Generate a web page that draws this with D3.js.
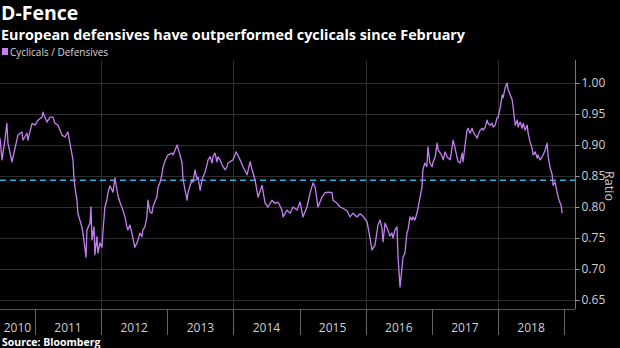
<!DOCTYPE html>
<html>
<head>
<meta charset="utf-8">
<script src="https://cdn.jsdelivr.net/npm/d3@7"></script>
<style>
  html, body { margin: 0; padding: 0; background: #000; }
  svg { display: block; }
  text { font-family: "Open Sans", "Noto Sans", sans-serif; }
</style>
</head>
<body>
<svg id="chart" width="620" height="348"></svg>
<script>
// Cyclicals / Defensives ratio, European equities
const dates = [
  "2010-06-22","2010-07-03","2010-07-19","2010-07-30","2010-08-05","2010-08-27","2010-09-13","2010-09-29",
  "2010-10-21","2010-10-27","2010-11-18","2010-11-23","2010-12-16","2011-01-01","2011-01-18","2011-02-09",
  "2011-02-14","2011-03-08","2011-03-25","2011-04-10","2011-04-21","2011-05-08","2011-05-30","2011-06-16",
  "2011-07-02","2011-07-13","2011-07-30","2011-08-04","2011-08-10","2011-08-21","2011-08-26","2011-09-06",
  "2011-09-17","2011-09-23","2011-10-10","2011-10-15","2011-11-01","2011-11-06","2011-11-12","2011-11-23",
  "2011-11-28","2011-12-09","2011-12-15","2011-12-26","2012-01-06","2012-01-11","2012-01-22","2012-02-02",
  "2012-02-08","2012-02-19","2012-03-07","2012-03-18","2012-03-29","2012-04-03","2012-04-14","2012-05-01",
  "2012-05-12","2012-05-23","2012-05-28","2012-06-08","2012-06-19","2012-07-06","2012-07-17","2012-07-23",
  "2012-08-03","2012-08-14","2012-08-19","2012-08-30","2012-09-10","2012-09-16","2012-09-27","2012-10-08",
  "2012-10-13","2012-10-24","2012-11-04","2012-11-10","2012-11-21","2012-12-02","2012-12-07","2012-12-18",
  "2012-12-30","2013-01-05","2013-01-27","2013-02-02","2013-02-13","2013-02-24","2013-03-01","2013-03-12",
  "2013-03-23","2013-03-29","2013-04-09","2013-04-20","2013-04-25","2013-05-07","2013-05-18","2013-05-23",
  "2013-06-03","2013-06-14","2013-06-20","2013-07-01","2013-07-12","2013-07-17","2013-07-28","2013-08-08",
  "2013-08-14","2013-08-25","2013-09-05","2013-09-10","2013-09-21","2013-10-02","2013-10-08","2013-10-19",
  "2013-10-30","2013-11-05","2013-11-16","2013-11-27","2013-12-02","2013-12-29","2014-01-16","2014-02-07",
  "2014-02-23","2014-03-17","2014-04-03","2014-04-14","2014-04-30","2014-05-17","2014-06-08","2014-06-25",
  "2014-07-11","2014-08-02","2014-08-19","2014-09-04","2014-09-26","2014-10-02","2014-10-24","2014-11-10",
  "2014-11-26","2014-12-18","2015-01-04","2015-01-20","2015-02-11","2015-02-28","2015-03-17","2015-03-28",
  "2015-04-13","2015-05-05","2015-05-22","2015-06-07","2015-06-29","2015-07-05","2015-07-27","2015-08-13",
  "2015-08-29","2015-09-20","2015-10-07","2015-10-23","2015-11-14","2015-12-01","2015-12-18","2016-01-09",
  "2016-01-25","2016-02-05","2016-02-22","2016-03-09","2016-03-20","2016-03-31","2016-04-06","2016-04-17",
  "2016-05-03","2016-05-14","2016-05-25","2016-05-31","2016-06-11","2016-06-22","2016-06-28","2016-07-09",
  "2016-07-20","2016-07-25","2016-08-05","2016-08-16","2016-08-22","2016-09-02","2016-09-13","2016-09-18",
  "2016-09-29","2016-10-10","2016-10-16","2016-10-27","2016-11-07","2016-11-12","2016-11-23","2016-12-04",
  "2016-12-10","2016-12-21","2017-01-02","2017-01-08","2017-01-19","2017-01-30","2017-02-04","2017-02-16",
  "2017-02-27","2017-03-04","2017-03-15","2017-03-26","2017-04-01","2017-04-12","2017-04-28","2017-05-09",
  "2017-05-20","2017-05-26","2017-06-06","2017-06-17","2017-06-22","2017-07-03","2017-07-14","2017-07-20",
  "2017-07-31","2017-08-11","2017-08-17","2017-08-28","2017-09-08","2017-09-13","2017-09-24","2017-10-05",
  "2017-10-11","2017-10-22","2017-11-02","2017-11-07","2017-11-18","2017-11-29","2017-12-05","2017-12-16",
  "2017-12-27","2018-01-02","2018-01-13","2018-01-24","2018-01-29","2018-02-09","2018-02-20","2018-02-26",
  "2018-03-09","2018-03-20","2018-03-26","2018-04-06","2018-04-17","2018-04-22","2018-05-03","2018-05-14",
  "2018-05-20","2018-05-31","2018-06-11","2018-06-16","2018-06-27","2018-07-08","2018-07-14","2018-07-25",
  "2018-08-05","2018-08-10","2018-08-21","2018-09-01","2018-09-07","2018-09-18","2018-09-29","2018-10-05",
  "2018-10-16","2018-10-27","2018-11-01","2018-11-12","2018-11-23","2018-11-29","2018-12-04","2018-12-15",
  "2018-12-21"
];

const ratio = [
  0.911,0.876,0.908,0.935,0.903,0.873,0.895,0.916,
  0.921,0.908,0.919,0.908,0.935,0.932,0.940,0.945,
  0.953,0.937,0.945,0.945,0.935,0.932,0.916,0.913,
  0.921,0.903,0.876,0.848,0.831,0.811,0.790,0.779,
  0.768,0.758,0.719,0.763,0.774,0.800,0.747,0.768,
  0.723,0.752,0.726,0.742,0.735,0.758,0.800,0.811,
  0.823,0.834,0.824,0.847,0.827,0.819,0.808,0.795,
  0.784,0.768,0.763,0.771,0.758,0.735,0.742,0.747,
  0.758,0.752,0.763,0.768,0.784,0.811,0.792,0.790,
  0.800,0.808,0.816,0.831,0.839,0.852,0.863,0.873,
  0.881,0.884,0.887,0.884,0.892,0.900,0.895,0.884,
  0.871,0.844,0.827,0.811,0.823,0.835,0.844,0.840,
  0.860,0.844,0.848,0.827,0.844,0.848,0.856,0.868,
  0.876,0.881,0.871,0.881,0.887,0.873,0.881,0.876,
  0.868,0.865,0.860,0.865,0.871,0.876,0.889,0.876,
  0.865,0.852,0.873,0.860,0.844,0.816,0.835,0.806,
  0.800,0.811,0.806,0.808,0.795,0.784,0.795,0.790,
  0.800,0.795,0.808,0.784,0.800,0.823,0.839,0.832,
  0.800,0.816,0.823,0.824,0.823,0.811,0.806,0.800,
  0.798,0.794,0.784,0.790,0.784,0.789,0.785,0.776,
  0.750,0.731,0.739,0.771,0.779,0.766,0.744,0.774,
  0.763,0.753,0.758,0.750,0.763,0.768,0.718,0.671,
  0.703,0.719,0.726,0.758,0.763,0.784,0.779,0.784,
  0.779,0.790,0.798,0.815,0.832,0.860,0.871,0.865,
  0.897,0.871,0.865,0.873,0.881,0.903,0.892,0.887,
  0.881,0.876,0.889,0.881,0.879,0.876,0.908,0.895,
  0.879,0.873,0.871,0.887,0.873,0.900,0.924,0.927,
  0.919,0.927,0.921,0.916,0.911,0.916,0.924,0.927,
  0.924,0.929,0.940,0.935,0.932,0.935,0.929,0.932,
  0.944,0.945,0.960,0.981,0.976,0.992,1.000,0.989,
  0.981,0.973,0.960,0.932,0.940,0.929,0.937,0.927,
  0.935,0.924,0.932,0.919,0.905,0.895,0.884,0.889,
  0.879,0.884,0.876,0.881,0.884,0.892,0.903,0.881,
  0.863,0.852,0.835,0.840,0.824,0.816,0.811,0.803,
  0.790
];

const averageRatio = 0.843;
const yTickValues = [0.65, 0.70, 0.75, 0.80, 0.85, 0.90, 0.95, 1.00];
const yearLabels = ["2010","2011","2012","2013","2014","2015","2016","2017","2018"];
const gridYears = ["2012","2014","2016","2018"];
const seriesName = "Cyclicals / Defensives";

const parse = d3.utcParse("%Y-%m-%d");
const series = dates.map((d, i) => ({ date: parse(d), value: ratio[i] }));

const svg = d3.select("#chart");
const plot = { left: 0, right: 575, top: 60, bottom: 309 };

const x = d3.scaleUtc()
  .domain([parse("2010-06-22"), parse("2019-03-02")])
  .range([plot.left, plot.right]);
const y = d3.scaleLinear()
  .domain([0.6355, 1.0371])
  .range([plot.bottom, plot.top]);

// Titles
svg.append("text").attr("x", 1).attr("y", 20)
  .attr("fill", "#fff").attr("font-weight", 700).attr("font-size", 19.5)
  .text("D-Fence");
svg.append("text").attr("x", 1).attr("y", 39.5)
  .attr("fill", "#fff").attr("font-weight", 700).attr("font-size", 14.5)
  .attr("textLength", 464).attr("lengthAdjust", "spacingAndGlyphs")
  .text("European defensives have outperformed cyclicals since February");

// Legend
svg.append("rect").attr("x", 2).attr("y", 48).attr("width", 6).attr("height", 7)
  .attr("fill", "#c47ff2");
svg.append("text").attr("x", 10).attr("y", 56)
  .attr("fill", "#d6d6d6").attr("font-size", 10)
  .attr("textLength", 98).attr("lengthAdjust", "spacingAndGlyphs")
  .text(seriesName);

// Horizontal grid
svg.append("g").selectAll("line").data(yTickValues).join("line")
  .attr("x1", plot.left).attr("x2", plot.right)
  .attr("y1", d => Math.round(y(d)) + 0.5).attr("y2", d => Math.round(y(d)) + 0.5)
  .attr("stroke", "#2e2e2e").attr("stroke-width", 1);

// Vertical grid every other year
svg.append("g").selectAll("line").data(gridYears).join("line")
  .attr("x1", d => Math.round(x(parse(d + "-01-01"))) + 0.5)
  .attr("x2", d => Math.round(x(parse(d + "-01-01"))) + 0.5)
  .attr("y1", plot.top).attr("y2", plot.bottom)
  .attr("stroke", "#2e2e2e").attr("stroke-width", 1);

// Average reference line
svg.append("line")
  .attr("x1", plot.left).attr("x2", plot.right)
  .attr("y1", y(averageRatio)).attr("y2", y(averageRatio))
  .attr("stroke", "#27b3df").attr("stroke-width", 1.5)
  .attr("stroke-dasharray", "6,4");

// Series line
svg.append("path").datum(series)
  .attr("fill", "none").attr("stroke", "#c47ff2").attr("stroke-width", 1.3)
  .attr("stroke-linejoin", "round")
  .attr("d", d3.line().x(d => x(d.date)).y(d => y(d.value)));

// Right axis
const yAxis = d3.axisRight(y).tickValues(yTickValues)
  .tickFormat(d3.format(".2f")).tickSize(4).tickPadding(2);
const gy = svg.append("g").attr("transform", `translate(${plot.right + 0.5},0)`).call(yAxis);
gy.select(".domain").attr("stroke", "#777").attr("d", `M0,${plot.top}V${plot.bottom}`);
gy.selectAll(".tick line").attr("stroke", "#999");
gy.selectAll(".tick text").attr("fill", "#cfcfcf").attr("font-size", 12)
  .attr("font-family", "'Open Sans', sans-serif");

svg.append("text")
  .attr("transform", `translate(605,186) rotate(90)`)
  .attr("text-anchor", "middle").attr("fill", "#cfcfcf").attr("font-size", 12.5)
  .text("Ratio");

// Bottom axis: baseline, year separators, centred year labels
svg.append("line").attr("x1", plot.left).attr("x2", plot.right)
  .attr("y1", plot.bottom + 0.5).attr("y2", plot.bottom + 0.5)
  .attr("stroke", "#555");

const yearStarts = yearLabels.map(yr => parse(yr + "-01-01"));
const yearEnds = yearLabels.map(yr => parse((+yr + 1) + "-01-01"));
svg.append("g").selectAll("line").data(yearEnds).join("line")
  .attr("x1", d => Math.round(x(d)) + 0.5).attr("x2", d => Math.round(x(d)) + 0.5)
  .attr("y1", plot.bottom).attr("y2", 335)
  .attr("stroke", "#666");

svg.append("g").selectAll("text").data(yearLabels).join("text")
  .attr("x", (d, i) => (Math.max(plot.left, x(yearStarts[i])) + Math.min(plot.right, x(yearEnds[i]))) / 2)
  .attr("y", 331.5)
  .attr("text-anchor", "middle").attr("fill", "#cfcfcf").attr("font-size", 12)
  .text(d => d);

// Source
svg.append("text").attr("x", 2).attr("y", 346)
  .attr("fill", "#fff").attr("font-weight", 700).attr("font-size", 10.5)
  .text("Source: Bloomberg");
</script>
</body>
</html>
